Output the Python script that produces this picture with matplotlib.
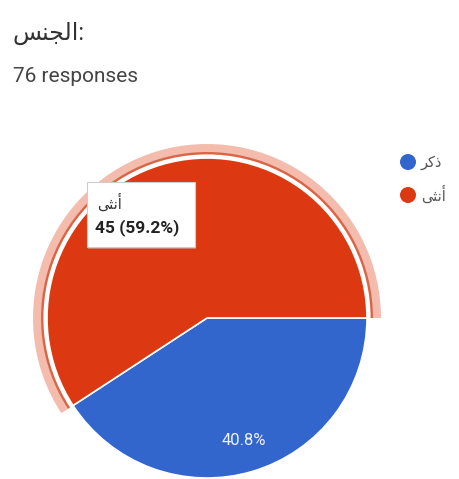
import matplotlib
matplotlib.use("Agg")
import matplotlib.pyplot as plt
from matplotlib.patches import Wedge, Circle, FancyBboxPatch

# responses per answer (male, female)
labels = ["ذكر", "أنثى"]
counts = [31, 45]
colors = ["#3366cc", "#dc3912"]

# Arabic strings written in visual order with presentation forms
title_vis = "\ufeb2\ufee8\ufea0\ufedf\ufe8d:"
legend_vis = ["\ufeae\ufedb\ufeab", "\ufef0\ufe9c\ufee7\ufe83"]
subtitle = "76 responses"

W, H = 459, 479
fig = plt.figure(figsize=(W / 100, H / 100), dpi=100)
ax = fig.add_axes([0, 0, 1, 1])

cx, cy, r = 207, H - 318, 160
total = sum(counts)


def pct_label(pct):
    return "%.1f%%" % pct if pct < 50 else ""


wedges, _, autotexts = ax.pie(counts, colors=colors, startangle=0,
                              counterclock=False, center=(cx, cy),
                              radius=r, autopct=pct_label,
                              pctdistance=0.8,
                              wedgeprops=dict(edgecolor="white",
                                              linewidth=1.2))
for t in autotexts:
    t.set_color("#eef2fb")
    t.set_fontsize(12)
    t.set_family("Roboto")

# highlight ring around the hovered slice
red = wedges[1]
th1, th2 = red.theta1, red.theta2
ax.add_patch(Wedge((cx, cy), 174, th1, th2, width=9,
                   facecolor="#f3bcad", edgecolor="none"))
ax.add_patch(Wedge((cx, cy), 166, th1, th2, width=2.4,
                   facecolor="#dc6446", edgecolor="none"))

# tooltip
bx, by, bw, bh = 87, H - 247, 108, 65
ax.add_patch(FancyBboxPatch((bx + 1, by - 2), bw, bh,
                            boxstyle="square,pad=0",
                            facecolor="#bbbbbb", edgecolor="none",
                            alpha=0.5))
ax.add_patch(FancyBboxPatch((bx, by), bw, bh, boxstyle="square,pad=0",
                            facecolor="white", edgecolor="#cccccc",
                            linewidth=0.8))
ax.text(bx + 10, H - 203, legend_vis[1], fontsize=10.5, color="#333333",
        family=["DejaVu Sans"], va="center", ha="left")
ax.text(bx + 8, H - 228, "%d (%.1f%%)" % (counts[1], 100 * counts[1] / total),
        fontsize=12.5, fontweight="bold", color="#222222",
        family=["Roboto", "DejaVu Sans"], va="center", ha="left")

# legend
for i, lab in enumerate(legend_vis):
    ly = H - (162 + 33 * i)
    ax.add_patch(Circle((408, ly), 8, facecolor=colors[i], edgecolor="none"))
    ax.text(421, ly, lab, fontsize=10.5, color="#555555",
            family=["DejaVu Sans"], va="center", ha="left")

# header
fig.text(13 / W, 1 - 33 / H, title_vis, fontsize=17, color="#333333",
         family=["Roboto", "DejaVu Sans"], va="center", ha="left")
fig.text(13 / W, 1 - 76 / H, subtitle, fontsize=15, color="#444444",
         family=["Roboto", "DejaVu Sans"], va="center", ha="left")

ax.set_xlim(0, W)
ax.set_ylim(0, H)
ax.set_aspect("auto")
ax.axis("off")

fig.savefig("out.png", dpi=100)
